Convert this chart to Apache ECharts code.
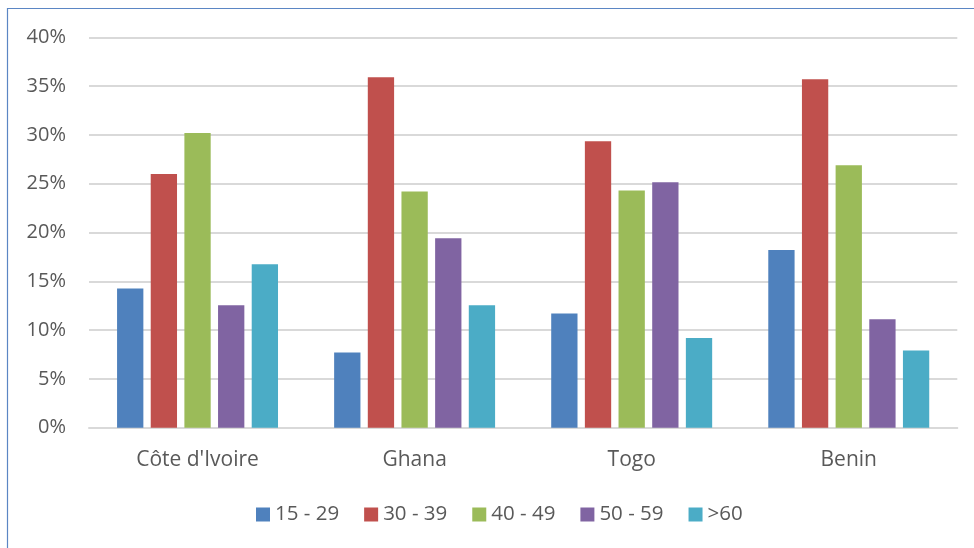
<!DOCTYPE html>
<html>
<head>
<meta charset="utf-8">
<script src="https://cdn.jsdelivr.net/npm/echarts@6/dist/echarts.min.js"></script>
<style>
html,body{margin:0;padding:0;background:#fff;}
#c{width:974px;height:548px;}
</style>
</head>
<body>
<div id="c"></div>
<script>
const categories = ["Côte d'Ivoire", "Ghana", "Togo", "Benin"];
const seriesNames = ["15 - 29", "30 - 39", "40 - 49", "50 - 59", ">60"];
const age15_29 = [14.25, 7.7, 11.7, 18.2];
const age30_39 = [26.0, 35.9, 29.35, 35.7];
const age40_49 = [30.2, 24.2, 24.3, 26.9];
const age50_59 = [12.55, 19.4, 25.15, 11.1];
const age60plus = [16.75, 12.55, 9.2, 7.9];
const colors = ["#4F81BD", "#C0504D", "#9BBB59", "#8064A2", "#4BACC6"];

const seriesData = [age15_29, age30_39, age40_49, age50_59, age60plus];
const font = "'Open Sans', sans-serif";
const textColor = "#595959";

const chart = echarts.init(document.getElementById('c'), null, {renderer: 'canvas'});
chart.setOption({
  animation: false,
  color: colors,
  grid: {left: 89, right: 16.7, top: 37.3, bottom: 120.3, containLabel: false, outerBoundsMode: 'none'},
  graphic: [{
    type: 'rect',
    shape: {x: 7.5, y: 8.5, width: 1100, height: 1100},
    style: {fill: null, stroke: '#5b86c4', lineWidth: 1.2},
    silent: true
  }],
  legend: {
    data: seriesNames,
    left: 251,
    top: 499,
    itemWidth: 14,
    itemHeight: 14,
    itemGap: 25,
    icon: 'rect',
    textStyle: {fontFamily: font, fontSize: 20.5, color: textColor}
  },
  xAxis: {
    type: 'category',
    data: categories,
    axisLine: {show: true, lineStyle: {color: '#d9d9d9', width: 2}},
    axisTick: {show: false},
    axisLabel: {fontFamily: font, fontSize: 21, color: textColor, margin: 22}
  },
  yAxis: {
    type: 'value',
    min: 0,
    max: 40,
    interval: 5,
    axisLine: {show: false},
    axisTick: {show: false},
    splitLine: {lineStyle: {color: '#d9d9d9', width: 2}},
    axisLabel: {fontFamily: font, fontSize: 20, color: textColor, margin: 23, formatter: '{value}%'}
  },
  series: seriesNames.map((n, i) => ({
    name: n,
    type: 'bar',
    data: seriesData[i],
    barWidth: 26.3,
    barGap: '28%',
    itemStyle: {color: colors[i]}
  }))
});
</script>
</body>
</html>
